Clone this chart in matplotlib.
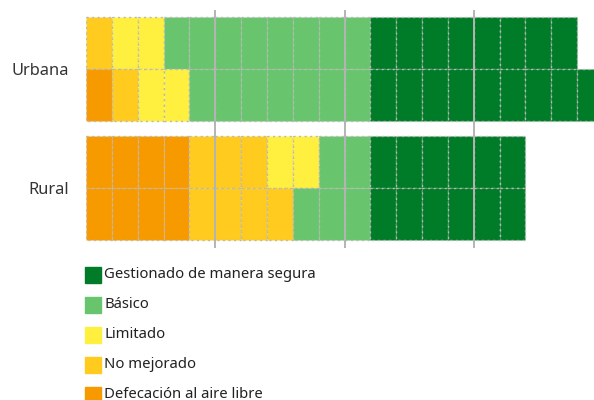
import matplotlib
matplotlib.use("Agg")
import matplotlib.pyplot as plt
from matplotlib.patches import Rectangle

plt.rcParams["font.family"] = ["Noto Sans", "DejaVu Sans"]

# Service levels, stacked left to right
levels = ["Defecación al aire libre", "No mejorado", "Limitado", "Básico",
          "Gestionado de manera segura"]
colors = ["#F79A00", "#FFCB1F", "#FFF03F", "#68C46D", "#007B27"]

groups = ["Urbana", "Rural"]
# Two bars per group (upper, lower); counts of unit cells per level
urbana_upper = [0, 1, 2, 8, 8]
urbana_lower = [1, 1, 2, 7, 9]
rural_upper = [4, 3, 2, 2, 6]
rural_lower = [4, 4, 0, 3, 6]

bars = [(0, urbana_upper), (0, urbana_lower), (1, rural_upper), (1, rural_lower)]

W, H = 594, 400
fig = plt.figure(figsize=(W / 100, H / 100), dpi=100)
ax = fig.add_axes([86 / W, 1 - 248 / H, 1 - 86 / W, (248 - 10) / H])

bar_h = 0.437
for k, (g, counts) in enumerate(bars):
    y = g + (-bar_h / 2 if k % 2 == 0 else bar_h / 2)
    left = 0
    for lvl, n in enumerate(counts):
        for i in range(n):
            ax.barh(y, 1, left=left + i, height=bar_h, color=colors[lvl],
                    edgecolor="#b8b8b8", linewidth=1.0, linestyle=(0, (1.5, 2.5)),
                    zorder=1)
        left += n

ax.set_xlim(0, (W - 86) / 25.85)
ax.set_ylim(1.508, -0.492)
ax.set_xticks([5, 10, 15])
ax.set_xticklabels([])
ax.set_yticks([0, 1])
ax.set_yticklabels(groups, fontsize=11.8, color="#333333")
ax.tick_params(axis="both", length=0)
ax.tick_params(axis="y", pad=12)
ax.grid(axis="x", color="#b4b4b4", linewidth=1.4)
ax.grid(axis="y", visible=False)
ax.set_axisbelow(False)
for s in ax.spines.values():
    s.set_visible(False)

# Legend, top entry first
for j, lvl in enumerate(reversed(range(len(levels)))):
    yc = 274.5 + 30 * j
    fig.add_artist(Rectangle((85 / W, 1 - (yc + 8) / H), 16 / W, 16 / H,
                             transform=fig.transFigure, color=colors[lvl]))
    fig.text(104.5 / W, 1 - yc / H, levels[lvl], fontsize=10.7, color="#222222",
             va="center", ha="left")

fig.savefig("out.png", dpi=100)
